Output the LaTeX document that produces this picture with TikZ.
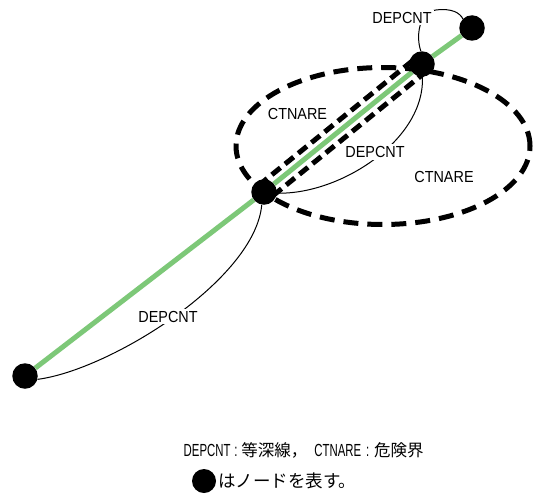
\documentclass[tikz,border=0pt]{standalone}
\usepackage{fontspec}
\setmainfont{Liberation Sans}
\newfontfamily\labfont[FakeStretch=0.9]{Liberation Sans}
\newfontfamily\legfont[FakeStretch=0.65]{Liberation Sans}
\newfontfamily\cjkfont{Noto Sans CJK JP}
\usetikzlibrary{calc}
\definecolor{linegreen}{RGB}{125,200,120}
\pgfdeclarelayer{bg}
\pgfsetlayers{bg,main}
\tikzset{
  dot/.style={circle, fill=black, inner sep=0pt, minimum size=25.5pt},
  greenline/.style={draw=linegreen, line width=5pt},
  dangerdash/.style={draw=black, line width=5pt, dash pattern=on 15pt off 9pt},
  rectdash/.style={draw=black, line width=5pt, dash pattern=on 11pt off 6pt},
  contour/.style={draw=black, line width=1pt},
  lab/.style={font=\labfont\fontsize{16}{18}\selectfont, fill=white, inner sep=2pt},
  areatext/.style={font=\labfont\fontsize{16}{18}\selectfont, inner sep=1pt},
  legend/.style={font=\fontsize{16.5}{19}\selectfont, inner sep=0pt, anchor=base west},
}
\begin{document}
\begin{tikzpicture}[x=1pt,y=-1pt]
\useasboundingbox (0,0) rectangle (534,495);
% nodes
\node[dot] (A) at (25,376) {};
\node[dot] (B) at (264,192) {};
\node[dot] (C) at (422,64) {};
\node[dot] (D) at (472,28) {};
% background: green line, dashed areas
\begin{pgfonlayer}{bg}
  \draw[greenline] (A) -- (B) -- (C) -- (D);
  \coordinate (b1) at ($(B)!8.5pt!90:(C)$);
  \coordinate (b2) at ($(B)!8.5pt!-90:(C)$);
  \coordinate (c1) at ($(C)!8.5pt!-90:(B)$);
  \coordinate (c2) at ($(C)!8.5pt!90:(B)$);
  \draw[rectdash] (b1) -- (c1) -- (c2) -- (b2) -- cycle;
  \coordinate (E) at (383,146);
  \draw[dangerdash] (E) ellipse [x radius=147pt, y radius=78.5pt];
\end{pgfonlayer}
% contour curves
\draw[contour] (A.-15) .. controls (110,370) and (255,280) .. (B.-100);
\draw[contour] (B.-5) .. controls (340,195) and (425,140) .. (C.-88);
\draw[contour] (C.95) .. controls (416,38) and (418,12) .. (436,10)
               .. controls (452,8) and (460,13) .. (D.135);
% labels
\node[lab] (l1) at (168,316.5) {DEPCNT};
\node[lab] (l2) at (375,152) {DEPCNT};
\node[lab] (l3) at (402,17.5) {DEPCNT};
\node[areatext] (a1) at (297.5,114) {CTNARE};
\node[areatext] (a2) at (444,176.5) {CTNARE};
% legend
\node[legend] (leg1) at (183.5,456) {{\legfont\fontsize{17.5}{19}\selectfont DEPCNT}\makebox[11pt]{\legfont\fontsize{17.5}{19}\selectfont :}{\cjkfont 等深線，}\hspace{7pt}{\legfont\fontsize{17.5}{19}\selectfont CTNARE}\makebox[13pt]{\legfont\fontsize{17.5}{19}\selectfont :}{\cjkfont 危険界}};
\node[dot, minimum size=24pt] (legdot) at (204,481) {};
\node[legend, font=\cjkfont\fontsize{17.5}{20}\selectfont] (leg2) at (218,487) {はノードを表す。};
\end{tikzpicture}
\end{document}
